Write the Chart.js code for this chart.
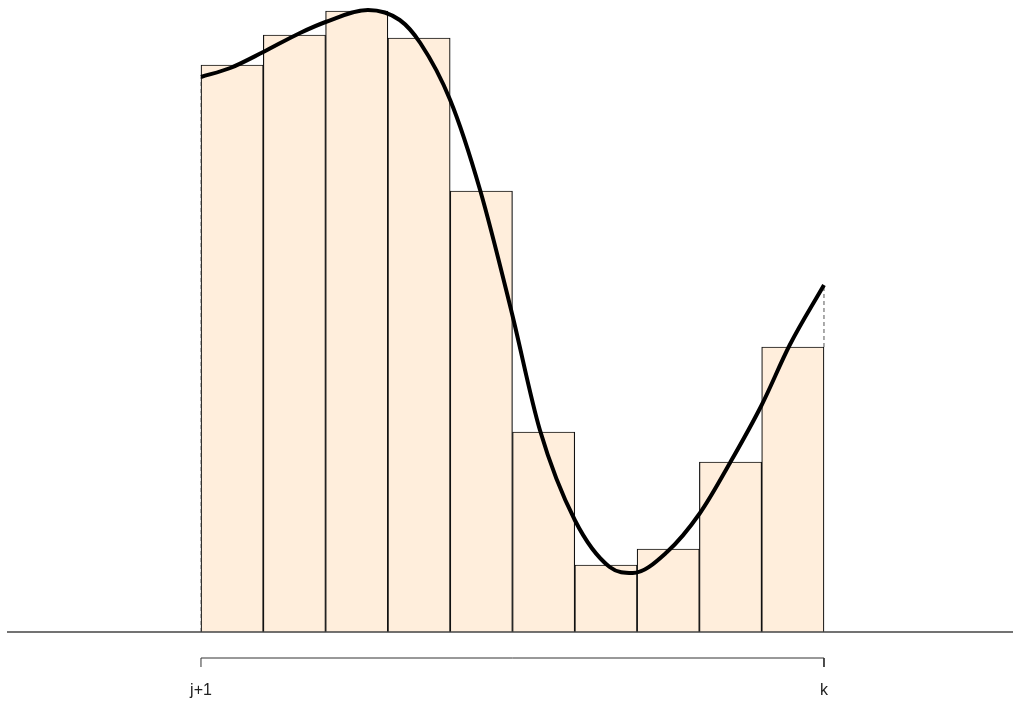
<!DOCTYPE html>
<html>
<head>
<meta charset="utf-8">
<script src="https://cdn.jsdelivr.net/npm/chart.js@4/dist/chart.umd.min.js"></script>
<style>
  html, body { margin: 0; padding: 0; background: #fff; }
  canvas { display: block; }
</style>
</head>
<body>
<canvas id="chart" width="1013" height="706"></canvas>
<script>
// bar heights, one per unit interval from j+1 to k
const barCenters = [0.5, 1.5, 2.5, 3.5, 4.5, 5.5, 6.5, 7.5, 8.5, 9.5];
const barHeights = [5.67, 5.97, 6.21, 5.94, 4.41, 2.00, 0.67, 0.83, 1.70, 2.85];

// smooth curve
const curveX = [0, 0.47, 1.0, 1.59, 2.0, 2.68, 3.19, 3.52, 4.0, 4.48, 4.99, 5.44, 6.0, 6.56, 6.93, 7.48, 8.01, 8.49, 9.0, 9.45, 10];
const curveY = [5.55, 5.64, 5.80, 5.99, 6.10, 6.22, 6.12, 5.89, 5.32, 4.42, 3.19, 2.02, 1.12, 0.65, 0.59, 0.80, 1.19, 1.69, 2.27, 2.87, 3.47];

// axis labels
const tickValues = [0, 10];
const tickLabels = ['j+1', 'k'];

const xMin = -3.226, xMax = 13.034;
const yMin = -0.44, yMax = 6.32;

const toPts = (xs, ys) => xs.map((x, i) => ({ x: x, y: ys[i] }));

new Chart(document.getElementById('chart'), {
    data: {
        datasets: [
            {
                type: 'line',
                data: toPts(curveX, curveY),
                borderColor: '#000',
                borderWidth: 4,
                cubicInterpolationMode: 'monotone',
                pointRadius: 0,
                fill: false,
                order: 0
            },
            {
                type: 'bar',
                data: toPts(barCenters, barHeights),
                backgroundColor: 'rgb(255,238,220)',
                borderColor: '#111',
                borderWidth: 1.2,
                borderSkipped: 'bottom',
                categoryPercentage: 1,
                barPercentage: 1,
                order: 2
            },
            {
                // dashed connectors from bar edges to the curve ends
                type: 'line',
                data: [{ x: 10, y: barHeights[9] }, { x: 10, y: curveY[curveY.length - 1] }],
                borderColor: '#555',
                borderWidth: 1,
                borderDash: [4, 3],
                pointRadius: 0,
                order: 1
            },
            {
                type: 'line',
                data: [{ x: 0, y: 0 }, { x: 0, y: curveY[0] }],
                borderColor: '#888',
                borderWidth: 1,
                borderDash: [4, 3],
                pointRadius: 0,
                order: 3
            },
            {
                // baseline
                type: 'line',
                data: [{ x: -3.114, y: 0 }, { x: xMax, y: 0 }],
                borderColor: '#444',
                borderWidth: 1.5,
                pointRadius: 0,
                order: 1
            },
            {
                // bracket under the bars
                type: 'line',
                data: [{ x: 0, y: -0.35 }, { x: 0, y: -0.26 }, { x: 10, y: -0.26 }, { x: 10, y: -0.35 }],
                borderColor: '#333',
                borderWidth: 1,
                pointRadius: 0,
                tension: 0,
                order: 1
            }
        ]
    },
    options: {
        responsive: false,
        animation: false,
        layout: { padding: 0 },
        plugins: {
            legend: { display: false },
            tooltip: { enabled: false }
        },
        scales: {
            x: {
                type: 'linear',
                min: xMin,
                max: xMax,
                offset: false,
                grid: { display: false, offset: false },
                border: { display: false },
                afterBuildTicks: (scale) => {
                    scale.ticks = tickValues.map(v => ({ value: v }));
                },
                afterFit: (scale) => { scale.height = 30; },
                ticks: {
                    autoSkip: false,
                    maxRotation: 0,
                    padding: -3,
                    color: '#222',
                    font: { family: 'Liberation Sans', size: 16 },
                    callback: (value) => tickLabels[tickValues.indexOf(value)]
                }
            },
            y: {
                display: false,
                min: yMin,
                max: yMax
            }
        }
    }
});
</script>
</body>
</html>
